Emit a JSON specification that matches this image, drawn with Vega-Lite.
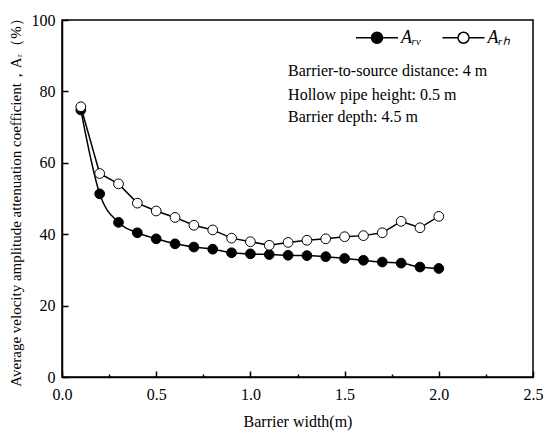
{
  "$schema": "https://vega.github.io/schema/vega-lite/v6.json",
  "width": 471,
  "height": 357,
  "autosize": "none",
  "padding": {"left": 62, "top": 20, "right": 17, "bottom": 63},
  "background": "white",
  "datasets": {
    "pts": [
      {"width": 0.1, "coef": 74.8, "series": "Arv"},
      {"width": 0.2, "coef": 51.3, "series": "Arv"},
      {"width": 0.3, "coef": 43.3, "series": "Arv"},
      {"width": 0.4, "coef": 40.4, "series": "Arv"},
      {"width": 0.5, "coef": 38.7, "series": "Arv"},
      {"width": 0.6, "coef": 37.3, "series": "Arv"},
      {"width": 0.7, "coef": 36.4, "series": "Arv"},
      {"width": 0.8, "coef": 35.8, "series": "Arv"},
      {"width": 0.9, "coef": 34.8, "series": "Arv"},
      {"width": 1.0, "coef": 34.5, "series": "Arv"},
      {"width": 1.1, "coef": 34.3, "series": "Arv"},
      {"width": 1.2, "coef": 34.1, "series": "Arv"},
      {"width": 1.3, "coef": 34.0, "series": "Arv"},
      {"width": 1.4, "coef": 33.7, "series": "Arv"},
      {"width": 1.5, "coef": 33.2, "series": "Arv"},
      {"width": 1.6, "coef": 32.7, "series": "Arv"},
      {"width": 1.7, "coef": 32.2, "series": "Arv"},
      {"width": 1.8, "coef": 31.9, "series": "Arv"},
      {"width": 1.9, "coef": 30.8, "series": "Arv"},
      {"width": 2.0, "coef": 30.4, "series": "Arv"},
      {"width": 0.1, "coef": 75.7, "series": "Arh"},
      {"width": 0.2, "coef": 57.0, "series": "Arh"},
      {"width": 0.3, "coef": 54.1, "series": "Arh"},
      {"width": 0.4, "coef": 48.7, "series": "Arh"},
      {"width": 0.5, "coef": 46.5, "series": "Arh"},
      {"width": 0.6, "coef": 44.7, "series": "Arh"},
      {"width": 0.7, "coef": 42.5, "series": "Arh"},
      {"width": 0.8, "coef": 41.2, "series": "Arh"},
      {"width": 0.9, "coef": 38.9, "series": "Arh"},
      {"width": 1.0, "coef": 37.9, "series": "Arh"},
      {"width": 1.1, "coef": 36.9, "series": "Arh"},
      {"width": 1.2, "coef": 37.7, "series": "Arh"},
      {"width": 1.3, "coef": 38.3, "series": "Arh"},
      {"width": 1.4, "coef": 38.7, "series": "Arh"},
      {"width": 1.5, "coef": 39.3, "series": "Arh"},
      {"width": 1.6, "coef": 39.6, "series": "Arh"},
      {"width": 1.7, "coef": 40.4, "series": "Arh"},
      {"width": 1.8, "coef": 43.6, "series": "Arh"},
      {"width": 1.9, "coef": 41.8, "series": "Arh"},
      {"width": 2.0, "coef": 45.0, "series": "Arh"}
    ],
    "notes": [
      {"width": 1.2, "coef": 85.6, "label": "Barrier-to-source distance: 4 m"},
      {"width": 1.2, "coef": 79.1, "label": "Hollow pipe height: 0.5 m"},
      {"width": 1.2, "coef": 72.7, "label": "Barrier depth: 4.5 m"}
    ]
  },
  "layer": [
    {
      "data": {"name": "pts"},
      "transform": [{"filter": "datum.series === 'Arv'"}],
      "mark": {"type": "line", "interpolate": "monotone", "color": "black", "strokeWidth": 1.5},
      "encoding": {
        "x": {
          "field": "width",
          "type": "quantitative",
          "scale": {"domain": [0, 2.5], "nice": false},
          "axis": {
            "title": "Barrier width(m)",
            "values": [0, 0.25, 0.5, 0.75, 1, 1.25, 1.5, 1.75, 2, 2.25, 2.5],
            "labelExpr": "datum.value % 0.5 === 0 ? format(datum.value, '.1f') : ''",
            "tickSize": -6,
            "tickDash": {"condition": {"test": "datum.value % 0.5 !== 0", "value": [3, 20]}, "value": [20, 0]},
            "grid": false,
            "domainColor": "black",
            "domainWidth": 1.5,
            "tickColor": "black",
            "tickWidth": 1.5,
            "labelFont": "Liberation Serif",
            "labelFontSize": 16,
            "labelColor": "black",
            "labelPadding": 15,
            "labelFlush": false,
            "titleFont": "Liberation Serif",
            "titleFontSize": 16,
            "titleFontWeight": "normal",
            "titleColor": "black",
            "titlePadding": 11
          }
        },
        "y": {
          "field": "coef",
          "type": "quantitative",
          "scale": {"domain": [0, 100], "nice": false},
          "axis": {
            "title": "Average velocity amplitude attenuation coefficient，Aᵣ（%）",
            "values": [0, 10, 20, 30, 40, 50, 60, 70, 80, 90, 100],
            "labelExpr": "datum.value % 20 === 0 ? format(datum.value, 'd') : ''",
            "tickSize": -6,
            "tickDash": {"condition": {"test": "datum.value % 20 !== 0", "value": [3, 20]}, "value": [20, 0]},
            "grid": false,
            "domainColor": "black",
            "domainWidth": 1.5,
            "tickColor": "black",
            "tickWidth": 1.5,
            "labelFont": "Liberation Serif",
            "labelFontSize": 16,
            "labelColor": "black",
            "labelPadding": 13,
            "labelFlush": false,
            "titleFont": "Liberation Serif",
            "titleFontSize": 15,
            "titleFontWeight": "normal",
            "titleColor": "black",
            "titlePadding": 8
          }
        }
      }
    },
    {
      "data": {"name": "pts"},
      "transform": [{"filter": "datum.series === 'Arh'"}],
      "mark": {"type": "line", "color": "black", "strokeWidth": 1.5},
      "encoding": {
        "x": {"field": "width", "type": "quantitative"},
        "y": {"field": "coef", "type": "quantitative"}
      }
    },
    {
      "data": {"name": "pts"},
      "mark": {"type": "point", "shape": "circle", "filled": true, "size": 95, "stroke": "black", "strokeWidth": 1, "opacity": 1},
      "encoding": {
        "x": {"field": "width", "type": "quantitative"},
        "y": {"field": "coef", "type": "quantitative"},
        "fill": {
          "field": "series",
          "type": "nominal",
          "scale": {"domain": ["Arv", "Arh"], "range": ["black", "white"]},
          "legend": {
            "title": null,
            "orient": "none",
            "legendX": 303.5,
            "legendY": 6,
            "direction": "horizontal",
            "symbolType": "M-2,0H-0.524M0.524,0H2M-0.524,0A0.524,0.524 0 1,1 0.524,0A0.524,0.524 0 1,1 -0.524,0",
            "symbolSize": 441,
            "symbolStrokeColor": "black",
            "symbolStrokeWidth": 1.5,
            "symbolOpacity": 1,
            "labelExpr": "datum.label === 'Arv' ? 'Aᵣᵥ' : 'Aᵣₕ'",
            "labelFont": "Liberation Serif",
            "labelFontStyle": "italic",
            "labelFontSize": 18,
            "labelColor": "black",
            "labelOffset": 12.5,
            "columnPadding": 17.5
          }
        }
      }
    },
    {
      "data": {"name": "notes"},
      "mark": {"type": "text", "align": "left", "baseline": "middle", "font": "Liberation Serif", "fontSize": 16, "color": "black"},
      "encoding": {
        "x": {"field": "width", "type": "quantitative"},
        "y": {"field": "coef", "type": "quantitative"},
        "text": {"field": "label"}
      }
    }
  ],
  "config": {
    "view": {"stroke": "black", "strokeWidth": 1.5}
  }
}
